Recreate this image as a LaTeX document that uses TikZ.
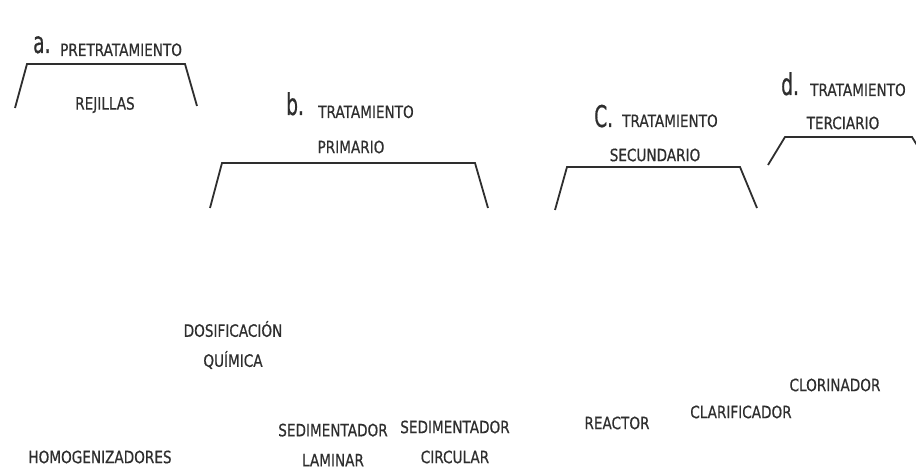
\documentclass[tikz,border=0pt]{standalone}
\usepackage{fontspec}
\setmainfont[FakeStretch=0.8,FakeBold=0.6]{DejaVu Sans}
\newfontfamily\bigfnt[FakeStretch=0.62,FakeBold=0.6]{DejaVu Sans}
\begin{document}
\begin{tikzpicture}[x=1pt,y=-1pt,
  lbl/.style={font=\fontsize{17}{30}\selectfont, text=black!82, inner sep=0pt, align=center},
  big/.style={font=\bigfnt\fontsize{30}{32}\selectfont, text=black!82, inner sep=0pt},
  brk/.style={draw=black!82, line width=1.8pt, line join=miter}]
\useasboundingbox (0,0) rectangle (916,470);
% a
\node[big, anchor=base west] (la) at (33,53) {a.};
\node[lbl, anchor=base west] (ta) at (60,56) {PRETRATAMIENTO};
\draw[brk] (15,108) -- (27,64) -- (185,64) -- (197,106);
\node[lbl] (rej) at (105,105) {REJILLAS};
% b
\node[big, anchor=base west] (lb) at (286,115) {b.};
\node[lbl, anchor=base west] (tb) at (318,118) {TRATAMIENTO};
\node[lbl] (pb) at (351,147) {PRIMARIO};
\draw[brk] (210,208) -- (222,163) -- (475,163) -- (488,208);
% c
\node[big, anchor=base west] (lc) at (594,127) {C.};
\node[lbl, anchor=base west] (tc) at (622,127) {TRATAMIENTO};
\node[lbl] (sc) at (655,155) {SECUNDARIO};
\draw[brk] (555,210) -- (567,167) -- (740,167) -- (757,208);
% d
\node[big, anchor=base west] (ld) at (781,95) {d.};
\node[lbl, anchor=base west] (td) at (810,96) {TRATAMIENTO};
\node[lbl] (tdd) at (843,123) {TERCIARIO};
\draw[brk] (768,165) -- (785,137) -- (912,137) -- (920,150);
% bottom
\node[lbl] (dos) at (233,345) {DOSIFICACIÓN\\QUÍMICA};
\node[lbl] (hom) at (100,457) {HOMOGENIZADORES};
\node[lbl] (sl) at (333,445) {SEDIMENTADOR\\LAMINAR};
\node[lbl] (sci) at (455,442) {SEDIMENTADOR\\CIRCULAR};
\node[lbl] (rea) at (617,423) {REACTOR};
\node[lbl] (cla) at (741,412) {CLARIFICADOR};
\node[lbl] (clo) at (835,385) {CLORINADOR};
\end{tikzpicture}
\end{document}
